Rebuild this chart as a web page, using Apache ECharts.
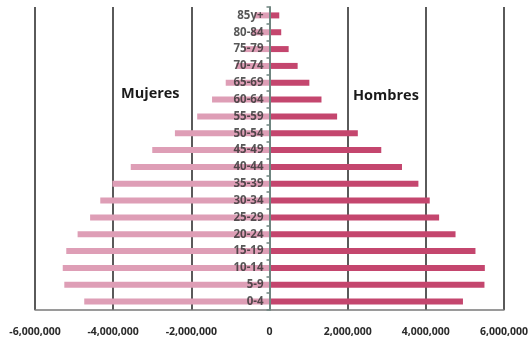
<!DOCTYPE html>
<html>
<head>
<meta charset="utf-8">
<script src="https://cdn.jsdelivr.net/npm/echarts@6/dist/echarts.min.js"></script>
<style>
  html, body { margin: 0; padding: 0; background: #fff; }
  #chart { width: 531px; height: 349px; }
</style>
</head>
<body>
<div id="chart"></div>
<script>
// Age groups, youngest at the bottom of the pyramid
const ageGroups = ['0-4', '5-9', '10-14', '15-19', '20-24', '25-29', '30-34', '35-39', '40-44',
  '45-49', '50-54', '55-59', '60-64', '65-69', '70-74', '75-79', '80-84', '85y+'];

// Women drawn to the left (negative), men to the right
const mujeres = [-4740000, -5250000, -5290000, -5200000, -4910000, -4590000, -4330000, -4020000, -3550000,
  -3000000, -2420000, -1850000, -1470000, -1120000, -850000, -650000, -450000, -380000];
const hombres = [4950000, 5500000, 5510000, 5270000, 4760000, 4340000, 4100000, 3810000, 3390000,
  2860000, 2260000, 1730000, 1330000, 1020000, 720000, 490000, 300000, 250000];

// Value axis ticks
const xMin = -6000000;
const xMax = 6000000;
const xStep = 2000000;

const fmt = v => Math.round(v).toLocaleString('en-US');
const FONT = '"Open Sans", sans-serif';

// Anchor points on the zero line that carry the age-group labels
const labelAnchors = ageGroups.map(g => [0, g]);

const chart = echarts.init(document.getElementById('chart'), null, { renderer: 'canvas' });
chart.setOption({
  animation: false,
  backgroundColor: '#ffffff',
  grid: { left: 35, right: 24, top: 7, bottom: 39, containLabel: false },
  xAxis: {
    type: 'value',
    min: xMin,
    max: xMax,
    interval: xStep,
    axisLine: { show: true, lineStyle: { color: '#7a7a7a', width: 1.5 } },
    axisTick: { show: false },
    splitLine: { show: true, showMinLine: true, showMaxLine: true, lineStyle: { color: '#5a5a5a', width: 2 } },
    axisLabel: {
      formatter: fmt,
      margin: 17,
      fontFamily: FONT,
      fontWeight: 'bold',
      fontSize: 10.5,
      color: '#2a2a2a'
    }
  },
  yAxis: {
    type: 'category',
    data: ageGroups,
    axisLine: { show: true, onZero: true, lineStyle: { color: '#6f8580', width: 2 } },
    axisTick: { show: true, length: 3, lineStyle: { color: '#6f8580', width: 1.5 } },
    axisLabel: { show: false },
    z: 5
  },
  series: [
    {
      name: 'Mujeres',
      type: 'bar',
      stack: 'poblacion',
      data: mujeres,
      barWidth: 6,
      itemStyle: { color: '#de9eb6' }
    },
    {
      name: 'Hombres',
      type: 'bar',
      stack: 'poblacion',
      data: hombres,
      barWidth: 6,
      itemStyle: { color: '#c4466e' }
    },
    {
      name: 'edades',
      type: 'scatter',
      data: labelAnchors,
      symbolSize: 0,
      silent: true,
      z: 6,
      label: {
        show: true,
        position: 'left',
        distance: 6,
        formatter: p => p.value[1],
        fontFamily: FONT,
        fontWeight: 'bold',
        fontSize: 11.5,
        color: '#2e2e2e'
      }
    }
  ],
  graphic: [
    {
      type: 'text', left: 121, top: 86,
      style: { text: 'Mujeres', font: 'bold 14.5px ' + FONT, fill: '#1a1a1a' }
    },
    {
      type: 'text', left: 353, top: 88,
      style: { text: 'Hombres', font: 'bold 14.5px ' + FONT, fill: '#1a1a1a' }
    }
  ]
});
</script>
</body>
</html>
